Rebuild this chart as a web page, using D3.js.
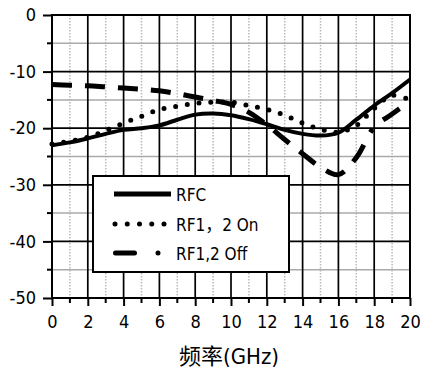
<!DOCTYPE html>
<html>
<head>
<meta charset="utf-8">
<style>
body { margin: 0; background: white; }
text { font-family: "DejaVu Sans Condensed", "DejaVu Sans", "Noto Sans CJK SC", sans-serif; fill: black; }
</style>
</head>
<body>
<script src="https://cdn.jsdelivr.net/npm/d3@7"></script>
<script>
// frequency points (GHz)
var freq = [0,1,2,3,4,5,6,7,8,9,10,11,12,13,14,15,16,17,18,19,20];
// RFC
var rfc = [-23,-22.5,-21.8,-21,-20.3,-20,-19.5,-18.5,-17.6,-17.4,-17.7,-18.4,-19.3,-20.3,-21,-21.3,-20.8,-18.5,-16,-13.8,-11.4];
// RF1, 2 On
var rfOn = [-22.8,-22.3,-21.6,-20.4,-19.1,-17.9,-16.7,-16.1,-15.6,-15.4,-15.4,-16,-16.7,-17.7,-19.1,-20.2,-20.7,-19.5,-16.5,-14.2,-15];
// RF1,2 Off
var rfOff = [-12.3,-12.4,-12.5,-12.7,-12.9,-13.1,-13.4,-13.9,-14.5,-15.1,-15.8,-17.2,-19.4,-22,-24.5,-26.9,-28.2,-25.2,-19.8,-17.5,-15.2];

var xTicks = [0,2,4,6,8,10,12,14,16,18,20];
var yTicks = [0,-10,-20,-30,-40,-50];
var legendNames = ["RFC", "RF1\uFF0C2 On", "RF1,2 Off"];

var width = 423, height = 376;
var pLeft = 52, pRight = 410, pTop = 15, pBottom = 298;

var svg = d3.select("body").append("svg")
    .attr("width", width)
    .attr("height", height);

var x = d3.scaleLinear().domain([0, 20]).range([pLeft, pRight]);
var y = d3.scaleLinear().domain([-50, 0]).range([pBottom, pTop]);

// grid
var g = svg.append("g");
g.selectAll(".vminor").data(d3.range(1, 20, 2)).enter().append("line")
    .attr("x1", d => x(d)).attr("x2", d => x(d))
    .attr("y1", pTop).attr("y2", pBottom)
    .attr("stroke", "#b8b8b8").attr("stroke-width", 1.5)
    .attr("stroke-dasharray", "1.5,1.5");
g.selectAll(".hminor").data(d3.range(-45, 0, 10)).enter().append("line")
    .attr("x1", pLeft).attr("x2", pRight)
    .attr("y1", d => y(d)).attr("y2", d => y(d))
    .attr("stroke", "#aaaaaa").attr("stroke-width", 1.5);
g.selectAll(".vmajor").data(d3.range(2, 20, 2)).enter().append("line")
    .attr("x1", d => x(d)).attr("x2", d => x(d))
    .attr("y1", pTop).attr("y2", pBottom)
    .attr("stroke", "black").attr("stroke-width", 1.7);
g.selectAll(".hmajor").data(d3.range(-40, 0, 10)).enter().append("line")
    .attr("x1", pLeft).attr("x2", pRight)
    .attr("y1", d => y(d)).attr("y2", d => y(d))
    .attr("stroke", "black").attr("stroke-width", 1.7);

// axes
var xAxis = d3.axisBottom(x).tickValues(xTicks).tickSize(8).tickPadding(9).tickFormat(d3.format("d"));
var yAxis = d3.axisLeft(y).tickValues(yTicks).tickSize(9).tickPadding(7).tickFormat(d => d === 0 ? "0" : "-" + Math.abs(d));

var gx = svg.append("g").attr("transform", "translate(0," + pBottom + ")").call(xAxis);
var gy = svg.append("g").attr("transform", "translate(" + pLeft + ",0)").call(yAxis);
[gx, gy].forEach(function(a) {
  a.select(".domain").remove();
  a.selectAll("line").attr("stroke", "black").attr("stroke-width", 2);
  a.selectAll("text").style("font-size", "18px").attr("fill", "black");
});
// minor ticks
svg.selectAll(".xmt").data(d3.range(1, 20, 2)).enter().append("line")
    .attr("x1", d => x(d)).attr("x2", d => x(d))
    .attr("y1", pBottom).attr("y2", pBottom + 5)
    .attr("stroke", "black").attr("stroke-width", 2);
svg.selectAll(".ymt").data(d3.range(-45, 0, 10)).enter().append("line")
    .attr("x1", pLeft - 5).attr("x2", pLeft)
    .attr("y1", d => y(d)).attr("y2", d => y(d))
    .attr("stroke", "black").attr("stroke-width", 2);

// frame
svg.append("rect")
    .attr("x", pLeft).attr("y", pTop)
    .attr("width", pRight - pLeft).attr("height", pBottom - pTop)
    .attr("fill", "none").attr("stroke", "black").attr("stroke-width", 2);

// curves
var line = d3.line().x((d, i) => x(freq[i])).y(d => y(d)).curve(d3.curveCatmullRom);

svg.append("path").datum(rfOff).attr("d", line)
    .attr("fill", "none").attr("stroke", "black").attr("stroke-width", 5)
    .attr("stroke-dasharray", "20,13,20,13,20,13,20,13,20,13,20,13,20,13,20,13,20,13,20,13,20,14,4,14");
svg.append("path").datum(rfOn).attr("d", line)
    .attr("fill", "none").attr("stroke", "black").attr("stroke-width", 5)
    .attr("stroke-linecap", "round").attr("stroke-dasharray", "0,11.8");
svg.append("path").datum(rfc).attr("d", line)
    .attr("fill", "none").attr("stroke", "black").attr("stroke-width", 4);

// legend
var lg = svg.append("g");
lg.append("rect").attr("x", 93).attr("y", 176).attr("width", 196).attr("height", 96)
    .attr("fill", "white").attr("stroke", "black").attr("stroke-width", 2);
var rows = [194, 224, 253];
lg.append("line").attr("x1", 114).attr("x2", 171).attr("y1", rows[0]).attr("y2", rows[0])
    .attr("stroke", "black").attr("stroke-width", 5);
lg.append("line").attr("x1", 115).attr("x2", 166).attr("y1", rows[1]).attr("y2", rows[1])
    .attr("stroke", "black").attr("stroke-width", 5)
    .attr("stroke-linecap", "round").attr("stroke-dasharray", "0,12.25");
lg.append("line").attr("x1", 115.5).attr("x2", 160).attr("y1", rows[2]).attr("y2", rows[2])
    .attr("stroke", "black").attr("stroke-width", 5)
    .attr("stroke-linecap", "round").attr("stroke-dasharray", "19,23.5,0,40");
lg.selectAll("text").data(legendNames).enter().append("text")
    .attr("x", 176).attr("y", (d, i) => rows[i] + 7)
    .style("font-size", "17px")
    .text(d => d);

// axis title
svg.append("text").attr("x", 229).attr("y", 364)
    .attr("text-anchor", "middle").style("font-size", "22px")
    .text("频率(GHz)");
</script>
</body>
</html>
